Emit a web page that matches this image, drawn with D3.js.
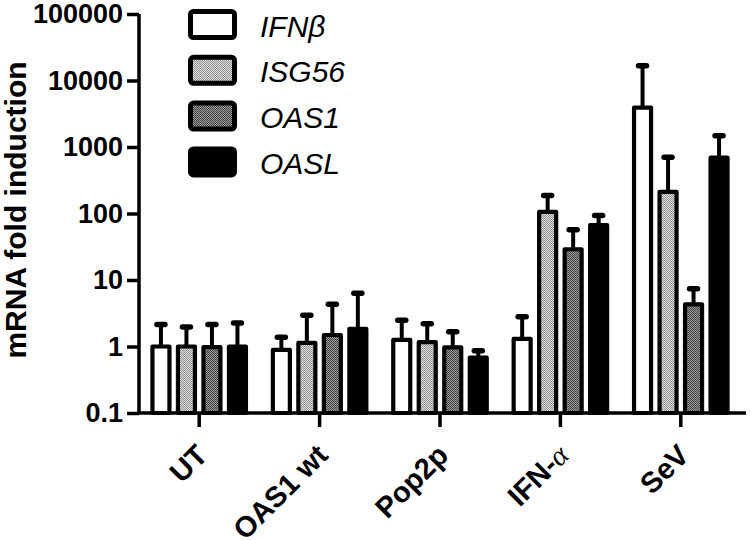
<!DOCTYPE html>
<html><head><meta charset="utf-8">
<script src="https://cdn.jsdelivr.net/npm/d3@7"></script>
<style>body{margin:0;background:#fff}svg{display:block}</style>
</head><body>
<svg id="c" width="750" height="540"></svg>
<script>
const categories = ["UT", "OAS1 wt", "Pop2p", "IFN-α", "SeV"];
const seriesNames = ["IFNβ", "ISG56", "OAS1", "OASL"];
const meanIFNb  = [1.0, 0.89, 1.26, 1.3, 3900];
const meanISG56 = [1.0, 1.13, 1.16, 106, 211];
const meanOAS1  = [0.98, 1.49, 0.97, 29, 4.3];
const meanOASL  = [1.0, 1.84, 0.68, 67, 690];
const upIFNb  = [2.14, 1.38, 2.48, 2.8, 16600];
const upISG56 = [1.97, 2.95, 2.2, 186, 700];
const upOAS1  = [2.14, 4.3, 1.66, 57, 7.4];
const upOASL  = [2.26, 6.3, 0.86, 93, 1480];
const yTicks = [0.1, 1, 10, 100, 1000, 10000, 100000];
const yTickLabels = ["0.1", "1", "10", "100", "1000", "10000", "100000"];

const means = [meanIFNb, meanISG56, meanOAS1, meanOASL];
const ups = [upIFNb, upISG56, upOAS1, upOASL];

const svg = d3.select("#c");
const defs = svg.append("defs");
function checker(id, a, b) {
  const p = defs.append("pattern").attr("id", id).attr("patternUnits", "userSpaceOnUse")
    .attr("width", 2).attr("height", 2);
  p.append("rect").attr("width", 2).attr("height", 2).attr("fill", a);
  p.append("rect").attr("width", 1).attr("height", 1).attr("fill", b);
  p.append("rect").attr("x", 1).attr("y", 1).attr("width", 1).attr("height", 1).attr("fill", b);
}
checker("pLight", "#e0e0e0", "#909090");
checker("pDark", "#9a9a9a", "#444444");
const fills = ["#ffffff", "url(#pLight)", "url(#pDark)", "#000000"];

const x0 = 139, x1 = 741, yTop = 14, yBot = 413;
const x = d3.scaleBand().domain(categories).range([x0, x1]);
const xs = d3.scaleBand().domain(seriesNames).range([-51, 51]);
const y = d3.scaleLog().domain([0.1, 100000]).range([yBot, yTop]);

const data = [];
categories.forEach((c, i) => seriesNames.forEach((s, j) => {
  data.push({c, s, j, v: means[j][i], u: ups[j][i]});
}));

const g = svg.append("g");
data.forEach(d => {
  const cx = x(d.c) + x.bandwidth() / 2 + xs(d.s) + xs.bandwidth() / 2;
  g.append("line").attr("x1", cx).attr("x2", cx).attr("y1", y(d.v)).attr("y2", y(d.u))
    .attr("stroke", "#000").attr("stroke-width", 4);
  g.append("line").attr("x1", cx - 4).attr("x2", cx + 4).attr("y1", y(d.u)).attr("y2", y(d.u))
    .attr("stroke", "#000").attr("stroke-width", 5.5).attr("stroke-linecap", "round");
});
data.forEach(d => {
  const cx = x(d.c) + x.bandwidth() / 2 + xs(d.s) + xs.bandwidth() / 2;
  const w = 17;
  g.append("rect").attr("x", cx - w / 2).attr("y", y(d.v)).attr("width", w)
    .attr("height", yBot - y(d.v)).attr("fill", fills[d.j])
    .attr("stroke", "#000").attr("stroke-width", 4.2).attr("stroke-linejoin", "round");
});

const yAxis = d3.axisLeft(y).tickValues(yTicks).tickFormat((d, i) => yTickLabels[i])
  .tickSize(12).tickSizeOuter(0).tickPadding(4);
const ya = svg.append("g").attr("transform", `translate(${x0},0)`).call(yAxis);
ya.select(".domain").attr("stroke", "#000").attr("stroke-width", 3.5).attr("d", `M0,${yTop}V${yBot}`);
ya.selectAll(".tick line").attr("stroke", "#000").attr("stroke-width", 3.5);
ya.selectAll(".tick text").attr("fill", "#000").style("font-family", "Liberation Sans, Arial, sans-serif")
  .style("font-weight", "bold").style("font-size", "27px");

const xAxis = d3.axisBottom(x).tickSize(14).tickSizeOuter(0).tickFormat("");
const xa = svg.append("g").attr("transform", `translate(0,${yBot})`).call(xAxis);
xa.select(".domain").attr("d", `M${x0 - 2},0H746`).attr("stroke", "#000").attr("stroke-width", 3.5);
xa.selectAll(".tick line").attr("stroke", "#000").attr("stroke-width", 3.5);

categories.forEach(c => {
  const cx = x(c) + x.bandwidth() / 2;
  const t = svg.append("text").attr("transform", `translate(${cx + 10},457) rotate(-45)`)
    .attr("text-anchor", "end").style("font-family", "Liberation Sans, Arial, sans-serif")
    .style("font-weight", "bold").style("font-size", "29px").attr("fill", "#000");
  if (c.endsWith("α")) {
    t.append("tspan").text(c.slice(0, -1));
    t.append("tspan").text("α").style("font-family", "Liberation Serif, serif")
      .style("font-weight", "normal").style("font-style", "italic");
  } else t.text(c);
});

svg.append("text").attr("transform", "translate(26,210) rotate(-90)").attr("text-anchor", "middle")
  .style("font-family", "Liberation Sans, Arial, sans-serif").style("font-weight", "bold")
  .style("font-size", "30px").attr("fill", "#000").text("mRNA fold induction");

const leg = svg.append("g");
seriesNames.forEach((s, j) => {
  const cy = 24.5 + j * 45.8;
  leg.append("rect").attr("x", 190.5).attr("y", cy - 13).attr("width", 44).attr("height", 26)
    .attr("rx", 3).attr("fill", fills[j]).attr("stroke", "#000").attr("stroke-width", 5);
  leg.append("text").attr("x", 260).attr("y", cy + 12).text(s)
    .style("font-family", "Liberation Sans, Arial, sans-serif").style("font-style", "italic")
    .style("font-size", "30px").attr("fill", "#000");
});
</script>
</body></html>
